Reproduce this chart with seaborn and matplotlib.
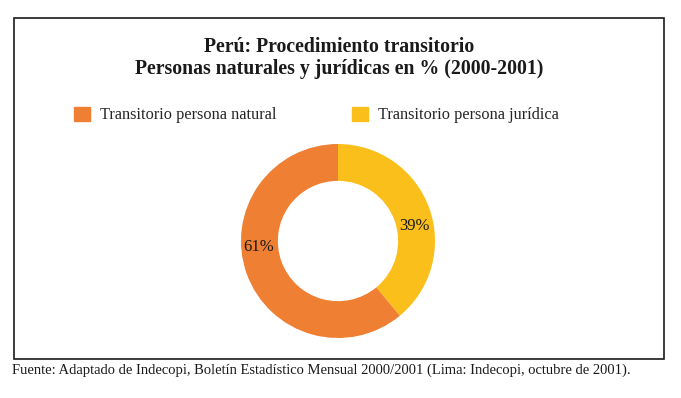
import matplotlib
matplotlib.use("Agg")
import matplotlib.pyplot as plt
import matplotlib.patches as mpatches
import seaborn as sns

# Data
labels = ["Transitorio persona jurídica", "Transitorio persona natural"]
values = [39, 61]
colors = ["#FBBF1B", "#EE7F33"]
title = "Perú: Procedimiento transitorio\nPersonas naturales y jurídicas en % (2000-2001)"
source = ("Fuente: Adaptado de Indecopi, Boletín Estadístico Mensual 2000/2001 "
          "(Lima: Indecopi, octubre de 2001).")

sns.set_theme(style="white")
plt.rcParams["font.family"] = ["Liberation Serif", "DejaVu Serif"]

W, H = 681, 398
fig = plt.figure(figsize=(W / 100, H / 100), dpi=100)

# outer frame
frame = mpatches.Rectangle((14 / W, 1 - 359 / H), (664 - 14) / W, (359 - 18) / H,
                           transform=fig.transFigure, fill=False,
                           edgecolor="#1a1a1a", linewidth=1.2)
fig.patches.append(frame)

fig.text(339 / W, 1 - 58 / H, title, ha="center", va="center",
         fontsize=14.2, fontweight="semibold", color="#1a1a1a", linespacing=1.12)

# donut
cx, cy, r = 338, 241, 97
ax = fig.add_axes([(cx - r) / W, 1 - (cy + r) / H, 2 * r / W, 2 * r / H])
wedges, _ = ax.pie(values, colors=colors, startangle=90, counterclock=False,
                   wedgeprops=dict(width=0.38, edgecolor="none"))
ax.set_xlim(-1, 1)
ax.set_ylim(-1, 1)
ax.set_aspect("equal")
ax.axis("off")

label_pos = [(0.79, 0.15), (-0.82, -0.06)]
for v, (x, y) in zip(values, label_pos):
    ax.text(x, y, f"{v}%", ha="center", va="center", fontsize=12, color="#1a1a1a")

# legend (natural first, then jurídica)
handles = [mpatches.Patch(color=colors[1]), mpatches.Patch(color=colors[0])]
fig.legend(handles, [labels[1], labels[0]], loc="center left",
           bbox_to_anchor=(59 / W, 1 - 115 / H), ncol=2, frameon=False,
           fontsize=11.8, handlelength=1.0, handleheight=1.0, handletextpad=0.6,
           columnspacing=4.6)

fig.text(12 / W, 1 - 370 / H, source, ha="left", va="center",
         fontsize=10.5, color="#1a1a1a")

fig.savefig("out.png", dpi=100)
